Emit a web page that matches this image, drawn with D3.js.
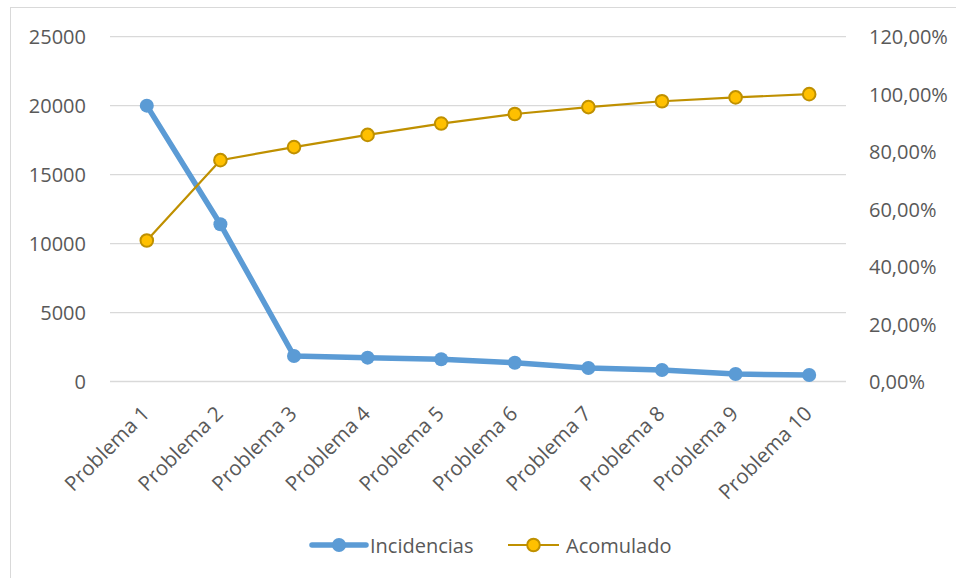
<!DOCTYPE html>
<html>
<head>
<meta charset="utf-8">
<script src="https://cdn.jsdelivr.net/npm/d3@7"></script>
<style>
  body { margin: 0; background: #fff; }
  text { font-family: 'Open Sans', sans-serif; fill: #595959; }
</style>
</head>
<body>
<div id="chart"></div>
<script>
const categories = ['Problema 1', 'Problema 2', 'Problema 3', 'Problema 4', 'Problema 5',
  'Problema 6', 'Problema 7', 'Problema 8', 'Problema 9', 'Problema 10']
const incidencias = [20000, 11400, 1850, 1730, 1610, 1360, 980, 830, 540, 470]
const acomulado = [49.06, 77.03, 81.57, 85.82, 89.77, 93.1, 95.5, 97.54, 98.87, 100]
const leftTicks = [0, 5000, 10000, 15000, 20000, 25000]
const rightTicks = [0, 20, 40, 60, 80, 100, 120]

const width = 956
const height = 578
const plot = { left: 110, right: 846, top: 36.7, bottom: 381.5 }

const svg = d3.select('#chart').append('svg')
  .attr('width', width)
  .attr('height', height)

// Chart border
svg.append('rect')
  .attr('x', 10.5)
  .attr('y', 7.5)
  .attr('width', 1000)
  .attr('height', 1000)
  .attr('fill', 'none')
  .attr('stroke', '#d9d9d9')

const x = d3.scaleBand()
  .domain(categories)
  .range([plot.left, plot.right])

const yLeft = d3.scaleLinear()
  .domain([0, 25000])
  .range([plot.bottom, plot.top])

const yRight = d3.scaleLinear()
  .domain([0, 120])
  .range([plot.bottom, plot.top])

const cx = d => x(d) + x.bandwidth() / 2

// Gridlines
svg.append('g')
  .selectAll('line')
  .data(leftTicks)
  .join('line')
  .attr('x1', plot.left)
  .attr('x2', plot.right)
  .attr('y1', d => yLeft(d))
  .attr('y2', d => yLeft(d))
  .attr('stroke', '#d9d9d9')
  .attr('stroke-width', 1.3)

// Left axis labels
svg.append('g')
  .selectAll('text')
  .data(leftTicks)
  .join('text')
  .attr('x', 86)
  .attr('y', d => yLeft(d))
  .attr('text-anchor', 'end')
  .attr('dominant-baseline', 'central')
  .style('font-size', '20px')
  .text(d => d)

// Right axis labels
const pct = v => v.toFixed(2).replace('.', ',') + '%'
svg.append('g')
  .selectAll('text')
  .data(rightTicks)
  .join('text')
  .attr('x', 869)
  .attr('y', d => yRight(d))
  .attr('text-anchor', 'start')
  .attr('dominant-baseline', 'central')
  .style('font-size', '20px')
  .text(d => pct(d))

// Category labels, rotated
svg.append('g')
  .selectAll('text')
  .data(categories)
  .join('text')
  .attr('transform', d => `translate(${cx(d) + 4},${415}) rotate(-45)`)
  .attr('text-anchor', 'end')
  .style('font-size', '20.5px')
  .text(d => d)

// Incidencias line
const lineLeft = d3.line()
  .x((d, i) => cx(categories[i]))
  .y(d => yLeft(d))

svg.append('path')
  .datum(incidencias)
  .attr('d', lineLeft)
  .attr('fill', 'none')
  .attr('stroke', '#5b9bd5')
  .attr('stroke-width', 5.5)
  .attr('stroke-linejoin', 'round')

svg.append('g')
  .selectAll('circle')
  .data(incidencias)
  .join('circle')
  .attr('cx', (d, i) => cx(categories[i]))
  .attr('cy', d => yLeft(d))
  .attr('r', 7)
  .attr('fill', '#5b9bd5')

// Acomulado line
const lineRight = d3.line()
  .x((d, i) => cx(categories[i]))
  .y(d => yRight(d))

svg.append('path')
  .datum(acomulado)
  .attr('d', lineRight)
  .attr('fill', 'none')
  .attr('stroke', '#bf9000')
  .attr('stroke-width', 2.2)

svg.append('g')
  .selectAll('circle')
  .data(acomulado)
  .join('circle')
  .attr('cx', (d, i) => cx(categories[i]))
  .attr('cy', d => yRight(d))
  .attr('r', 6.3)
  .attr('fill', '#ffc000')
  .attr('stroke', '#bf9000')
  .attr('stroke-width', 2)

// Legend
const legendY = 545
const legend = svg.append('g')

legend.append('line')
  .attr('x1', 312).attr('x2', 366)
  .attr('y1', legendY).attr('y2', legendY)
  .attr('stroke', '#5b9bd5')
  .attr('stroke-width', 5.5)
  .attr('stroke-linecap', 'round')
legend.append('circle')
  .attr('cx', 339).attr('cy', legendY).attr('r', 7)
  .attr('fill', '#5b9bd5')
legend.append('text')
  .attr('x', 370).attr('y', legendY)
  .attr('dominant-baseline', 'central')
  .style('font-size', '20px')
  .text('Incidencias')

legend.append('line')
  .attr('x1', 508).attr('x2', 559)
  .attr('y1', legendY).attr('y2', legendY)
  .attr('stroke', '#bf9000')
  .attr('stroke-width', 2.2)
legend.append('circle')
  .attr('cx', 533.5).attr('cy', legendY).attr('r', 6.3)
  .attr('fill', '#ffc000')
  .attr('stroke', '#bf9000')
  .attr('stroke-width', 2)
legend.append('text')
  .attr('x', 566).attr('y', legendY)
  .attr('dominant-baseline', 'central')
  .style('font-size', '20px')
  .text('Acomulado')
</script>
</body>
</html>
